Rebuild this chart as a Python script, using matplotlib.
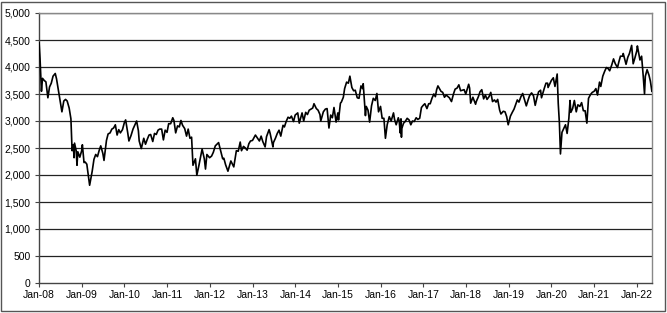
import matplotlib
matplotlib.use("Agg")
import matplotlib.pyplot as plt
import matplotlib.dates as mdates
import pandas as pd
from matplotlib.patches import Rectangle
from matplotlib.ticker import FuncFormatter

# index level (roughly twice a month plus the big turns)
dates = [
    # 2008
    "2008-01-02", "2008-01-10", "2008-01-22", "2008-01-31", "2008-02-15", "2008-02-29", "2008-03-17", "2008-03-31",
    "2008-04-15", "2008-04-30", "2008-05-19", "2008-05-30", "2008-06-16", "2008-06-30", "2008-07-15", "2008-07-31",
    "2008-08-15", "2008-08-29", "2008-09-15", "2008-09-30", "2008-10-10", "2008-10-20", "2008-10-27", "2008-10-31",
    "2008-11-14", "2008-11-21", "2008-11-28", "2008-12-15", "2008-12-31",
    # 2009
    "2009-01-06", "2009-01-20", "2009-01-30", "2009-02-13", "2009-02-27", "2009-03-09", "2009-03-31", "2009-04-15",
    "2009-04-30", "2009-05-15", "2009-05-29", "2009-06-12", "2009-06-30", "2009-07-10", "2009-07-31", "2009-08-14",
    "2009-08-31", "2009-09-15", "2009-09-30", "2009-10-15", "2009-10-30", "2009-11-13", "2009-11-27", "2009-12-15",
    "2009-12-31",
    # 2010
    "2010-01-11", "2010-01-29", "2010-02-08", "2010-02-26", "2010-03-15", "2010-03-31", "2010-04-15", "2010-04-30",
    "2010-05-07", "2010-05-25", "2010-06-15", "2010-06-30", "2010-07-15", "2010-07-30", "2010-08-13", "2010-08-31",
    "2010-09-15", "2010-09-30", "2010-10-15", "2010-10-29", "2010-11-15", "2010-11-30", "2010-12-15", "2010-12-31",
    # 2011
    "2011-01-14", "2011-01-31", "2011-02-18", "2011-02-28", "2011-03-15", "2011-03-31", "2011-04-15", "2011-04-29",
    "2011-05-13", "2011-05-31", "2011-06-16", "2011-06-30", "2011-07-15", "2011-07-29", "2011-08-10", "2011-08-31",
    "2011-09-12", "2011-09-30", "2011-10-27", "2011-11-15", "2011-11-25", "2011-12-07", "2011-12-30",
    # 2012
    "2012-01-16", "2012-01-31", "2012-02-17", "2012-03-16", "2012-03-30", "2012-04-20", "2012-04-30", "2012-05-15",
    "2012-06-04", "2012-06-29", "2012-07-24", "2012-08-15", "2012-08-31", "2012-09-17", "2012-09-28", "2012-10-15",
    "2012-10-31", "2012-11-15", "2012-11-30", "2012-12-14", "2012-12-31",
    # 2013
    "2013-01-25", "2013-02-28", "2013-03-15", "2013-03-29", "2013-04-18", "2013-04-30", "2013-05-22", "2013-05-31",
    "2013-06-24", "2013-06-28", "2013-07-15", "2013-07-31", "2013-08-15", "2013-08-30", "2013-09-18", "2013-09-30",
    "2013-10-15", "2013-10-31", "2013-11-15", "2013-11-29", "2013-12-17", "2013-12-31",
    # 2014
    "2014-01-22", "2014-02-04", "2014-02-28", "2014-03-14", "2014-03-31", "2014-04-15", "2014-04-30", "2014-05-15",
    "2014-05-30", "2014-06-10", "2014-06-30", "2014-07-15", "2014-07-31", "2014-08-07", "2014-08-29", "2014-09-15",
    "2014-09-30", "2014-10-16", "2014-10-31", "2014-11-14", "2014-11-28", "2014-12-16", "2014-12-31",
    # 2015
    "2015-01-06", "2015-01-22", "2015-01-30", "2015-02-16", "2015-02-27", "2015-03-16", "2015-03-31", "2015-04-13",
    "2015-04-30", "2015-05-15", "2015-05-29", "2015-06-15", "2015-06-30", "2015-07-17", "2015-07-31", "2015-08-05",
    "2015-08-24", "2015-08-31", "2015-09-15", "2015-09-29", "2015-10-15", "2015-10-30", "2015-11-16", "2015-11-30",
    "2015-12-14", "2015-12-31",
    # 2016
    "2016-01-14", "2016-01-29", "2016-02-11", "2016-02-26", "2016-03-15", "2016-03-31", "2016-04-20", "2016-04-29",
    "2016-05-13", "2016-05-31", "2016-06-08", "2016-06-16", "2016-06-23", "2016-06-27", "2016-06-30", "2016-07-15",
    "2016-07-29", "2016-08-15", "2016-08-31", "2016-09-15", "2016-09-30", "2016-10-14", "2016-10-31", "2016-11-14",
    "2016-11-30", "2016-12-15", "2016-12-30",
    # 2017
    "2017-01-13", "2017-01-31", "2017-02-15", "2017-02-28", "2017-03-15", "2017-03-31", "2017-04-13", "2017-04-24",
    "2017-05-05", "2017-05-31", "2017-06-15", "2017-06-30", "2017-07-15", "2017-07-31", "2017-08-11", "2017-08-29",
    "2017-09-15", "2017-09-29", "2017-10-16", "2017-10-31", "2017-11-15", "2017-11-30", "2017-12-15", "2017-12-29",
    # 2018
    "2018-01-23", "2018-01-31", "2018-02-09", "2018-02-28", "2018-03-23", "2018-03-29", "2018-04-16", "2018-04-30",
    "2018-05-15", "2018-05-31", "2018-06-15", "2018-06-29", "2018-07-16", "2018-07-31", "2018-08-15", "2018-08-31",
    "2018-09-14", "2018-09-28", "2018-10-15", "2018-10-26", "2018-11-15", "2018-11-30", "2018-12-14", "2018-12-27",
    # 2019
    "2019-01-15", "2019-01-31", "2019-02-15", "2019-02-28", "2019-03-15", "2019-03-29", "2019-04-15", "2019-04-30",
    "2019-05-15", "2019-05-31", "2019-06-14", "2019-06-28", "2019-07-15", "2019-07-31", "2019-08-15", "2019-08-30",
    "2019-09-13", "2019-09-30", "2019-10-08", "2019-10-31", "2019-11-15", "2019-11-29", "2019-12-03", "2019-12-31",
    # 2020
    "2020-01-17", "2020-01-31", "2020-02-19", "2020-02-28", "2020-03-09", "2020-03-18", "2020-03-31", "2020-04-15",
    "2020-04-30", "2020-05-14", "2020-05-29", "2020-06-08", "2020-06-15", "2020-06-30", "2020-07-15", "2020-07-31",
    "2020-08-14", "2020-08-31", "2020-09-15", "2020-09-30", "2020-10-15", "2020-10-30", "2020-11-13", "2020-11-30",
    "2020-12-15", "2020-12-31",
    # 2021
    "2021-01-15", "2021-01-29", "2021-02-15", "2021-02-26", "2021-03-15", "2021-03-31", "2021-04-15", "2021-04-30",
    "2021-05-13", "2021-05-31", "2021-06-15", "2021-06-30", "2021-07-19", "2021-07-30", "2021-08-13", "2021-08-31",
    "2021-09-06", "2021-09-30", "2021-10-15", "2021-10-29", "2021-11-17", "2021-11-30", "2021-12-15", "2021-12-31",
    # 2022
    "2022-01-05", "2022-01-27", "2022-02-10", "2022-02-24", "2022-03-07", "2022-03-14", "2022-03-29", "2022-04-14",
    "2022-04-26", "2022-05-09",
]

values = [
    # 2008
    4450, 4150, 3550, 3790, 3750, 3725, 3430, 3630,
    3700, 3830, 3880, 3780, 3550, 3350, 3170, 3370,
    3400, 3370, 3240, 3040, 2450, 2560, 2320, 2590,
    2450, 2180, 2430, 2330, 2450,
    # 2009
    2560, 2230, 2240, 2200, 1980, 1810, 2070, 2290,
    2380, 2340, 2450, 2540, 2400, 2270, 2640, 2760,
    2780, 2850, 2870, 2930, 2740, 2840, 2780, 2840,
    2970,
    # 2010
    3020, 2780, 2630, 2730, 2850, 2930, 3000, 2820,
    2630, 2490, 2680, 2570, 2660, 2740, 2750, 2620,
    2770, 2750, 2830, 2850, 2850, 2650, 2830, 2790,
    # 2011
    2950, 2950, 3060, 3010, 2780, 2910, 2890, 3010,
    2920, 2860, 2720, 2850, 2680, 2700, 2180, 2300,
    1995, 2180, 2480, 2300, 2110, 2380, 2320,
    # 2012
    2350, 2420, 2540, 2600, 2480, 2300, 2310, 2190,
    2070, 2260, 2150, 2450, 2440, 2610, 2450, 2530,
    2500, 2460, 2580, 2630, 2640,
    # 2013
    2740, 2630, 2720, 2620, 2520, 2710, 2840, 2770,
    2520, 2600, 2680, 2770, 2830, 2720, 2920, 2890,
    2990, 3070, 3050, 3090, 2990, 3110,
    # 2014
    3150, 2960, 3150, 3000, 3160, 3120, 3200, 3220,
    3240, 3320, 3230, 3200, 3120, 3000, 3170, 3220,
    3230, 2870, 3110, 3060, 3250, 2980, 3150,
    # 2015
    3020, 3330, 3350, 3440, 3600, 3720, 3700, 3830,
    3620, 3560, 3570, 3430, 3420, 3650, 3600, 3690,
    3100, 3270, 3200, 2980, 3280, 3420, 3380, 3510,
    3170, 3270,
    # 2016
    3050, 3050, 2680, 2930, 3080, 3000, 3150, 3030,
    2930, 3060, 3000, 2780, 3040, 2700, 2860, 2960,
    2990, 3050, 3020, 2930, 3000, 2990, 3060, 3030,
    3050, 3250, 3290,
    # 2017
    3320, 3230, 3320, 3320, 3420, 3500, 3450, 3580,
    3650, 3550, 3530, 3440, 3480, 3450, 3430, 3360,
    3500, 3590, 3610, 3670, 3560, 3570, 3580, 3500,
    # 2018
    3680, 3610, 3330, 3440, 3310, 3360, 3450, 3540,
    3580, 3410, 3480, 3400, 3450, 3530, 3360, 3390,
    3350, 3400, 3200, 3130, 3180, 3170, 3080, 2930,
    # 2019
    3090, 3160, 3220, 3300, 3390, 3350, 3450, 3510,
    3400, 3280, 3380, 3470, 3520, 3470, 3290, 3430,
    3540, 3570, 3430, 3600, 3700, 3700, 3620, 3750,
    # 2020
    3800, 3640, 3870, 3330, 2960, 2390, 2790, 2860,
    2930, 2770, 3050, 3380, 3160, 3230, 3380, 3170,
    3300, 3270, 3340, 3190, 3190, 2960, 3420, 3490,
    3530, 3550,
    # 2021
    3600, 3480, 3720, 3640, 3830, 3920, 3990, 3970,
    3930, 4040, 4150, 4060, 3990, 4090, 4200, 4200,
    4250, 4050, 4180, 4250, 4400, 4060, 4170, 4300,
    # 2022
    4390, 4130, 4200, 3830, 3500, 3830, 3950, 3850,
    3740, 3550,
]

y_ticks = [0, 500, 1000, 1500, 2000, 2500, 3000, 3500, 4000, 4500, 5000]
x_start = "2008-01-01"
x_end = "2022-05-10"

plt.rcParams["font.family"] = ["Liberation Sans", "DejaVu Sans"]

fig = plt.figure(figsize=(6.67, 3.13), dpi=100)
ax = fig.add_axes([39 / 667, 30 / 313, 613 / 667, 270 / 313])

# outer chart frame
fig.patches.append(Rectangle((1 / 667, 2 / 313), 664 / 667, 309 / 313, transform=fig.transFigure,
                             fill=False, edgecolor="#555555", linewidth=1.0))

for t in y_ticks[1:]:
    ax.axhline(t, color="#222222", linewidth=0.9, zorder=1)

ax.plot(pd.to_datetime(dates), values, color="black", linewidth=1.2, zorder=3)

ax.set_ylim(y_ticks[0], y_ticks[-1])
ax.set_xlim(pd.Timestamp(x_start), pd.Timestamp(x_end))
ax.set_yticks(y_ticks)
ax.yaxis.set_major_formatter(FuncFormatter(lambda v, p: f"{int(v):,}"))
ax.xaxis.set_major_locator(mdates.YearLocator(1, month=1, day=1))
ax.xaxis.set_major_formatter(mdates.DateFormatter("Jan-%y"))

for side in ["top", "right"]:
    ax.spines[side].set_color("#888888")
    ax.spines[side].set_linewidth(1.0)
for side in ["left", "bottom"]:
    ax.spines[side].set_color("#444444")
    ax.spines[side].set_linewidth(1.0)

ax.tick_params(axis="both", direction="out", length=3, width=0.8, color="#444444",
               labelsize=7.5, labelcolor="black")
ax.tick_params(axis="y", pad=3)
ax.tick_params(axis="x", pad=2)

fig.savefig("out.png", dpi=100)
